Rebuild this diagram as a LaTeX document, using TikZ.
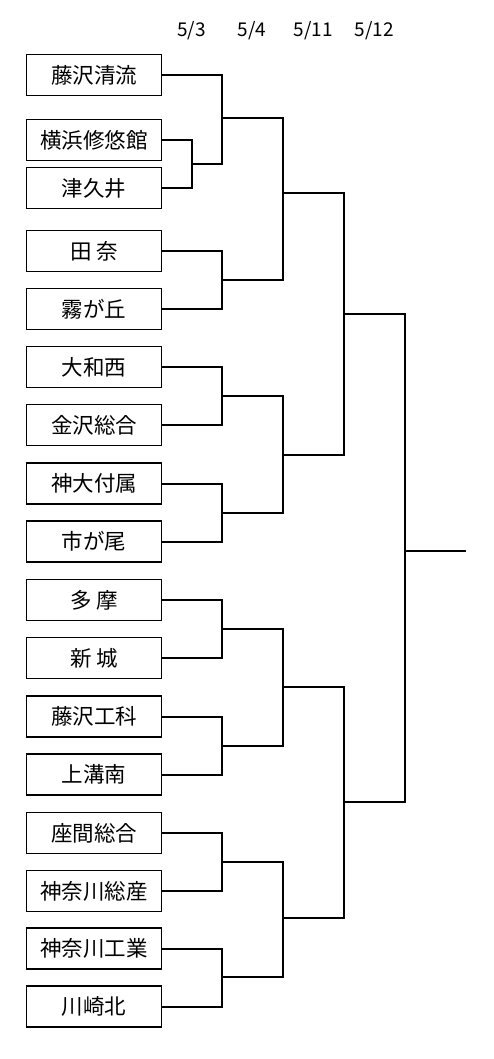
\documentclass[tikz,border=0pt]{standalone}
\usepackage{fontspec}
\newfontfamily\jpfont{Noto Sans CJK JP}
\usepackage{tikz}

\begin{document}
\begin{tikzpicture}[x=1pt,y=-1pt,
            team node/.style={draw,line width=1.2pt,minimum width=135pt,minimum height=41pt,inner sep=0pt,font=\jpfont\fontsize{21.5}{24}\selectfont},
            date node/.style={font=\jpfont\fontsize{19}{22}\selectfont},
            bracket/.style={line width=2pt},
            ]
            \def\X{94}
            \useasboundingbox (0,0) rectangle (494,1059);
            \fill[white] (0,0) rectangle (494,1059);

            % dates
            \node[date node] (date1) at (191.7,30.7) {5/3};
            \node[date node] (date2) at (252,30.7) {5/4};
            \node[date node] (date3) at (313,30.7) {5/11};
            \node[date node] (date4) at (374,30.7) {5/12};

            % teams
            \node[team node] (t1) at (\X,75) {藤沢清流};
            \node[team node] (t2) at (\X,140) {横浜修悠館};
            \node[team node] (t3) at (\X,188) {津久井};
            \node[team node] (t4) at (\X,251) {田 奈};
            \node[team node] (t5) at (\X,309) {霧が丘};
            \node[team node] (t6) at (\X,367) {大和西};
            \node[team node] (t7) at (\X,425) {金沢総合};
            \node[team node] (t8) at (\X,483.5) {神大付属};
            \node[team node] (t9) at (\X,541.5) {市が尾};
            \node[team node] (t10) at (\X,600) {多 摩};
            \node[team node] (t11) at (\X,658) {新 城};
            \node[team node] (t12) at (\X,716.5) {藤沢工科};
            \node[team node] (t13) at (\X,774.5) {上溝南};
            \node[team node] (t14) at (\X,833) {座間総合};
            \node[team node] (t15) at (\X,891) {神奈川総産};
            \node[team node] (t16) at (\X,948.5) {神奈川工業};
            \node[team node] (t17) at (\X,1006.5) {川崎北};

            % joins
            \coordinate (a1) at (191.7,164);
            \coordinate (b1) at (221.7,118.3);
            \coordinate (b2) at (221.7,279.7);
            \coordinate (b3) at (221.7,396);
            \coordinate (b4) at (221.7,512.7);
            \coordinate (b5) at (221.7,628.7);
            \coordinate (b6) at (221.7,745.7);
            \coordinate (b7) at (221.7,862);
            \coordinate (b8) at (221.7,976.7);
            \coordinate (c1) at (283,192.7);
            \coordinate (c2) at (283,455);
            \coordinate (c3) at (283,687);
            \coordinate (c4) at (283,917.7);
            \coordinate (d1) at (343.7,314.3);
            \coordinate (d2) at (343.7,801.7);
            \coordinate (e) at (405,550.7);
            \coordinate (champ) at (465.7,550.7);

            \draw[bracket] (t2.east) -| (a1) (t3.east) -| (a1);
            \draw[bracket] (t1.east) -| (b1) (a1) -| (b1);
            \draw[bracket] (t4.east) -| (b2) (t5.east) -| (b2);
            \draw[bracket] (t6.east) -| (b3) (t7.east) -| (b3);
            \draw[bracket] (t8.east) -| (b4) (t9.east) -| (b4);
            \draw[bracket] (t10.east) -| (b5) (t11.east) -| (b5);
            \draw[bracket] (t12.east) -| (b6) (t13.east) -| (b6);
            \draw[bracket] (t14.east) -| (b7) (t15.east) -| (b7);
            \draw[bracket] (t16.east) -| (b8) (t17.east) -| (b8);
            \draw[bracket] (b1) -| (c1) (b2) -| (c1);
            \draw[bracket] (b3) -| (c2) (b4) -| (c2);
            \draw[bracket] (b5) -| (c3) (b6) -| (c3);
            \draw[bracket] (b7) -| (c4) (b8) -| (c4);
            \draw[bracket] (c1) -| (d1) (c2) -| (d1);
            \draw[bracket] (c3) -| (d2) (c4) -| (d2);
            \draw[bracket] (d1) -| (e) (d2) -| (e);
            \draw[bracket] (e) -- (champ);
        \end{tikzpicture}
\end{document}
